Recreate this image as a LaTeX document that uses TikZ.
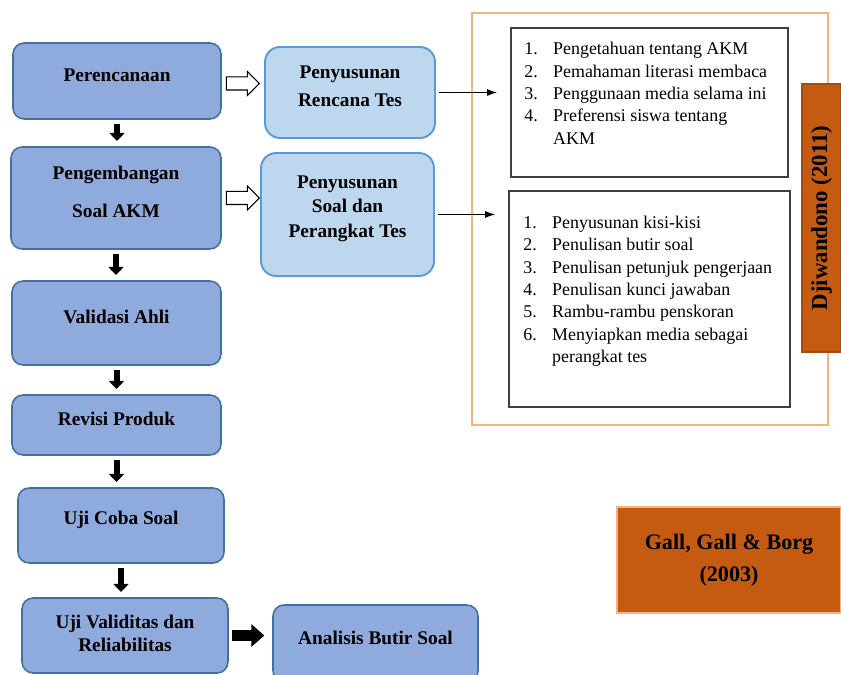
\documentclass[tikz,border=0pt]{standalone}
\usepackage{fontspec}
\setmainfont{Liberation Serif}
\usetikzlibrary{arrows.meta,shapes.arrows}

\definecolor{stepfill}{HTML}{8FAADC}
\definecolor{stepline}{HTML}{41719C}
\definecolor{subfill}{HTML}{BDD7EE}
\definecolor{subline}{HTML}{5B9BD5}
\definecolor{srcfill}{HTML}{C55A11}
\definecolor{srcline}{HTML}{F4B183}
\definecolor{listline}{HTML}{404040}

\tikzset{
  stepbox/.style={draw=stepline, fill=stepfill, line width=0.9pt, rounded corners=0.22cm},
  subbox/.style={draw=subline, fill=subfill, line width=1.1pt, rounded corners=0.3cm},
  listbox/.style={draw=listline, line width=1pt},
  srcbox/.style={fill=srcfill, draw=srcline, line width=0.8pt, align=center,
    font=\fontsize{12.6}{18}\selectfont\bfseries},
  boxtext/.style={font=\fontsize{11}{13.2}\selectfont\bfseries, align=center, yshift=3.4pt},
  listtext/.style={font=\fontsize{10.2}{12.7}\selectfont, inner sep=0pt, anchor=base west},
  downarr/.style={line width=0.12cm, -{Triangle[width=0.3cm,length=0.16cm]},
    shorten <=2.5pt, shorten >=3pt},
  openarr/.style={single arrow, draw, fill=white, line width=0.6pt, inner sep=0.12cm,
    minimum height=0.66cm, single arrow head extend=0.11cm, anchor=west},
  pointer/.style={line width=0.7pt, -{Latex[length=0.2cm,width=0.14cm]},
    shorten <=2pt, shorten >=7.4pt}
}

\begin{document}
\begin{tikzpicture}[x=0.02cm, y=-0.02cm]
  \path[use as bounding box, clip] (0,0) rectangle (841,675);

  % source frame
  \draw[srcline, line width=0.9pt] (472,13) rectangle (828,425);

  % main steps
  \node[stepbox, minimum width=4.16cm, minimum height=1.52cm,
    label={[boxtext, name=plan-t]center:Perencanaan}] (plan) at (117,81) {};
  \node[stepbox, minimum width=4.2cm, minimum height=2.04cm,
    label={[boxtext, name=dev-t]center:{Pengembangan\\[8.3pt]Soal AKM}}] (dev) at (116,198) {};
  \node[stepbox, minimum width=4.18cm, minimum height=1.68cm,
    label={[boxtext, name=valid-t]center:Validasi Ahli}] (valid) at (116.5,323) {};
  \node[stepbox, minimum width=4.18cm, minimum height=1.2cm,
    label={[boxtext, name=revisi-t]center:Revisi Produk}] (revisi) at (116.5,425) {};
  \node[stepbox, minimum width=4.12cm, minimum height=1.5cm,
    label={[boxtext, name=ujicoba-t]center:Uji Coba Soal}] (ujicoba) at (121,525.5) {};
  \node[stepbox, minimum width=4.12cm, minimum height=1.5cm,
    label={[boxtext, yshift=-2.3pt, name=ujival-t]center:{Uji Validitas dan\\Reliabilitas}}] (ujival) at (125,635.5) {};
  \node[stepbox, minimum width=4.1cm, minimum height=1.54cm,
    label={[boxtext, name=analisis-t]center:Analisis Butir Soal}] (analisis) at (375.5,643.5) {};

  % sub steps
  \node[subbox, minimum width=3.4cm, minimum height=1.82cm,
    label={[boxtext, name=rencana-t]center:{Penyusunan\\[2.7pt]Rencana Tes}}] (rencana) at (350,92.5) {};
  \node[subbox, minimum width=3.46cm, minimum height=2.46cm,
    label={[boxtext, name=soal-t]center:{Penyusunan\\[0.7pt]Soal dan\\[0.7pt]Perangkat Tes}}] (soal) at (347.5,214.5) {};

  % lists
  \node[listbox, minimum width=5.54cm, minimum height=2.98cm] (list1) at (649.5,102.5) {};
  \node[listtext] (list1-t) at (524,55) {\begin{tabular}[t]{@{}p{16.4pt}@{}l@{}}
    1. & Pengetahuan tentang AKM\\
    2. & Pemahaman literasi membaca\\
    3. & Penggunaan media selama ini\\
    4. & Preferensi siswa tentang\\
       & AKM
  \end{tabular}};
  \node[listbox, minimum width=5.62cm, minimum height=4.32cm] (list2) at (649.5,299) {};
  \node[listtext] (list2-t) at (523,228.5) {\begin{tabular}[t]{@{}p{16.4pt}@{}l@{}}
    1. & Penyusunan kisi-kisi\\
    2. & Penulisan butir soal\\
    3. & Penulisan petunjuk pengerjaan\\
    4. & Penulisan kunci jawaban\\
    5. & Rambu-rambu penskoran\\
    6. & Menyiapkan media sebagai\\
       & perangkat tes
  \end{tabular}};

  % sources
  \node[srcbox, draw=srcfill!85!black, rotate=90, minimum width=5.36cm, minimum height=0.78cm,
    font=\fontsize{13}{15}\selectfont\bfseries] (dji) at (821.5,218) {Djiwandono (2011)};
  \node[srcbox, minimum width=4.48cm, minimum height=2.12cm] (gall) at (729,560) {Gall, Gall \& Borg\\(2003)};

  % arrows
  \draw[downarr] (plan.south) -- (plan.south |- dev.north);
  \draw[downarr] (dev.south) -- (dev.south |- valid.north);
  \draw[downarr] (valid.south) -- (valid.south |- revisi.north);
  \draw[downarr] (revisi.south) -- (revisi.south |- ujicoba.north);
  \draw[downarr] (ujicoba.south) -- (ujicoba.south |- ujival.north);
  \draw[line width=0.22cm, -{Triangle[width=0.44cm,length=0.26cm]}, shorten <=1.7pt, shorten >=4.5pt]
    (ujival.east) -- (ujival.east -| analisis.west);

  \node[openarr] (open1) at ([xshift=2.3pt,yshift=-1.4pt]plan.east) {};
  \node[openarr] (open2) at ([xshift=2.3pt]dev.east) {};

  \draw[pointer] (rencana.east) -- (rencana.east -| list1.west);
  \draw[pointer] (soal.east) -- (soal.east -| list2.west);
\end{tikzpicture}
\end{document}
